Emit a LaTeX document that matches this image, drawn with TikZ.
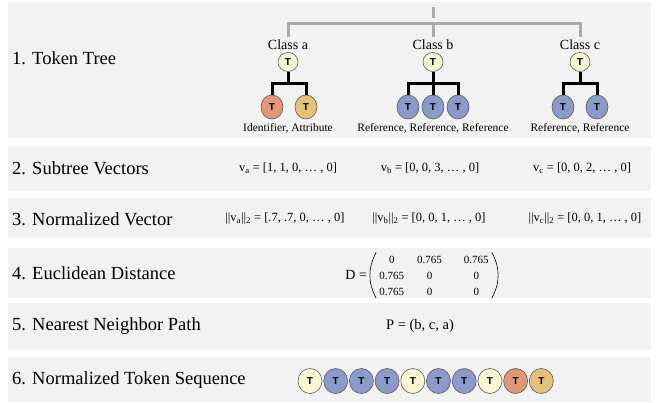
\documentclass[tikz,border=0pt]{standalone}
\usepackage{fontspec}
\setmainfont{Liberation Serif}
\setsansfont{Liberation Sans}
\usetikzlibrary{positioning,matrix,shapes.geometric}

\definecolor{bandgray}{RGB}{242,242,242}
\definecolor{treegray}{RGB}{170,170,170}
\definecolor{tokcream}{RGB}{247,247,212}
\definecolor{tokblue}{RGB}{137,154,203}
\definecolor{tokorange}{RGB}{226,152,114}
\definecolor{toktan}{RGB}{229,193,118}
\definecolor{tokedge}{RGB}{90,90,90}

\begin{document}
\begin{tikzpicture}[x=1pt,y=-1pt]
    \tikzstyle{rowlabel} = [anchor=west, inner sep=0pt,
        font=\fontsize{18.5}{20}\selectfont]
    \tikzstyle{formula} = [inner sep=0pt, font=\fontsize{12.5}{14}\selectfont]
    \tikzstyle{classlabel} = [inner sep=3pt, font=\fontsize{14}{15}\selectfont]
    \tikzstyle{kindlabel} = [inner sep=0pt, font=\fontsize{11.5}{13}\selectfont]
    \tikzstyle{tok} = [ellipse, draw=tokedge, line width=0.6pt, inner sep=0pt,
        minimum width=22pt, minimum height=24pt,
        font=\fontsize{10}{10}\sffamily\bfseries]
    \tikzstyle{roottok} = [tok, minimum width=20pt, minimum height=19pt]
    \tikzstyle{seqtok} = [tok, minimum width=24pt, minimum height=25pt]
    \tikzstyle{treeline} = [draw=treegray, line width=3pt]
    \tikzstyle{branch} = [draw=black, line width=3pt]
    \tikzstyle{paren} = [draw=black, line width=0.6pt]

    \useasboundingbox (0,0) rectangle (658,402);

    \fill[bandgray] (8,2) rectangle (651,138);
    \fill[bandgray] (8,146) rectangle (651,191);
    \fill[bandgray] (8,198) rectangle (651,238);
    \fill[bandgray] (8,248) rectangle (651,298);
    \fill[bandgray] (8,303) rectangle (651,350);
    \fill[bandgray] (8,357) rectangle (651,402);

    \node(lbltree) [rowlabel] at (12,58) {1. Token Tree};
    \node(lblvec) [rowlabel] at (12,168) {2. Subtree Vectors};
    \node(lblnorm) [rowlabel] at (12,219) {3. Normalized Vector};
    \node(lbldist) [rowlabel] at (12,273) {4. Euclidean Distance};
    \node(lblpath) [rowlabel] at (12,326) {5. Nearest Neighbor Path};
    \node(lblseq) [rowlabel] at (12,380) {6. Normalized Token Sequence};

    \node(classa) [classlabel] at (288,45) {Class a};
    \node(classb) [classlabel] at (433,45) {Class b};
    \node(classc) [classlabel] at (580,45) {Class c};

    \node(tokena) [roottok, fill=tokcream] at (288,62) {T};
    \node(tokenb) [roottok, fill=tokcream] at (433,62) {T};
    \node(tokenc) [roottok, fill=tokcream] at (580,62) {T};

    \node(childa1) [tok, fill=tokorange] at (272,107) {T};
    \node(childa2) [tok, fill=toktan] at (306,107) {T};
    \node(childb1) [tok, fill=tokblue] at (408,107) {T};
    \node(childb2) [tok, fill=tokblue] at (433,107) {T};
    \node(childb3) [tok, fill=tokblue] at (458,107) {T};
    \node(childc1) [tok, fill=tokblue] at (563,107) {T};
    \node(childc2) [tok, fill=tokblue] at (597,107) {T};

    \node(kinda) [kindlabel] at (288,128) {Identifier, Attribute};
    \node(kindb) [kindlabel] at (433,128) {Reference, Reference, Reference};
    \node(kindc) [kindlabel] at (580,128) {Reference, Reference};

    \coordinate(stubtop) at (433,7);
    \coordinate(stubend) at (433,17.5);
    \coordinate(hub) at (433,23);
    \draw[treeline] (stubtop) -- (stubend);
    \draw[treeline] (classa.north) |- (hub) -| (classc.north);
    \draw[treeline] (hub) -- (classb.north);

    \coordinate(bara) at (288,83);
    \coordinate(barb) at (433,83);
    \coordinate(barc) at (580,83);
    \draw[branch] (tokena) -- (bara);
    \draw[branch] (childa1) |- (bara) -| (childa2);
    \draw[branch] (tokenb) -- (childb2);
    \draw[branch] (childb1) |- (barb) -| (childb3);
    \draw[branch] (tokenc) -- (barc);
    \draw[branch] (childc1) |- (barc) -| (childc2);

    \node(veca) [formula] at (288,168) {v\textsubscript{a} = [1, 1, 0, … , 0]};
    \node(vecb) [formula] at (430,168) {v\textsubscript{b} = [0, 0, 3, … , 0]};
    \node(vecc) [formula] at (582,168) {v\textsubscript{c} = [0, 0, 2, … , 0]};

    \node(norma) [formula] at (285,219)
        {||v\textsubscript{a}||\textsubscript{2} = [.7, .7, 0, … , 0]};
    \node(normb) [formula] at (429,219)
        {||v\textsubscript{b}||\textsubscript{2} = [0, 0, 1, … , 0]};
    \node(normc) [formula] at (585,219)
        {||v\textsubscript{c}||\textsubscript{2} = [0, 0, 1, … , 0]};

    \matrix(dist) [matrix of nodes, inner sep=0pt,
        column sep=11pt, row sep=6pt,
        nodes={inner sep=1pt, text height=8pt, text depth=0pt,
            font=\fontsize{11}{12}\selectfont}]
        at (434,275)
        {0 & 0.765 &[9pt] 0.765 \\
         0.765 & 0 & 0 \\
         0.765 & 0 & 0 \\};
    \draw[paren] ([xshift=-2pt, yshift=1.5pt]dist.north west)
        to[bend right=28] ([xshift=-2pt, yshift=-2pt]dist.south west);
    \draw[paren] ([xshift=2pt, yshift=1.5pt]dist.north east)
        to[bend left=28] ([xshift=2pt, yshift=-2pt]dist.south east);
    \node(distname) [formula, left=11pt of dist, font=\fontsize{14}{15}\selectfont]
        {D =};

    \node(path) [formula, font=\fontsize{14.5}{16}\selectfont] at (420,326)
        {P = (b, c, a)};

    \foreach \col [count=\i] in {tokcream,tokblue,tokblue,tokblue,tokcream,
        tokblue,tokblue,tokcream,tokorange,toktan}
        \node(seq\i) [seqtok, fill=\col] at (284.3+25.7*\i,381) {T};
\end{tikzpicture}
\end{document}
